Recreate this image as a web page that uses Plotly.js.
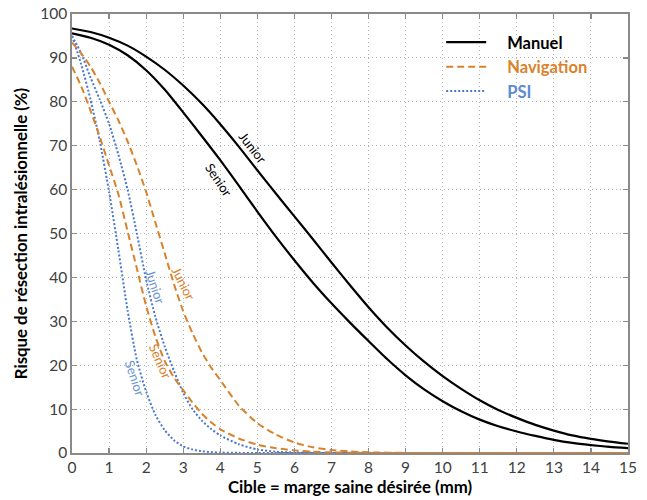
<!DOCTYPE html>
<html>
<head>
<meta charset="utf-8">
<script src="https://cdn.plot.ly/plotly-3.0.1.min.js"></script>
<style>html,body{margin:0;padding:0;background:#fff}#chart{width:647px;height:500px}</style>
</head>
<body>
<div id="chart"></div>
<script>
// x positions (mm)
const xManuel = [0,0.5,1,1.5,2,2.5,3,3.5,4,4.5,5,5.5,6,6.5,7,7.5,8,8.5,9,9.5,10,10.5,11,11.5,12,12.5,13,13.5,14,14.5,15];
const manuelJunior = [96.7,95.9,94.6,92.8,90.3,87.3,83.7,79.6,74.9,69.8,64.4,59.1,53.9,48.7,43.4,38.2,33.2,28.6,24.5,20.8,17.5,14.6,12,9.8,8,6.4,5.1,4,3.2,2.6,2.1];
const manuelSenior = [95.6,94.6,93,90.6,87.2,82.8,77.6,72.2,66.7,60.9,55,49.3,43.9,38.8,34.1,29.7,25.5,21.4,17.7,14.5,11.8,9.5,7.6,6.1,4.9,3.9,3.0,2.3,1.8,1.4,1.1];

const xFast = [0,0.25,0.5,0.75,1,1.25,1.5,1.75,2,2.25,2.5,2.75,3,3.25,3.5,3.75,4,4.5,5,5.5,6,6.5,7,7.5,8,9,10,11,12,13,14,15];
const navJunior = [93.5,91,88,84.3,80,75.8,71,65.5,59.5,52.5,45.5,38.5,32.3,27.3,23,19.5,16.6,10.8,6.8,4.2,2.4,1.3,0.7,0.35,0.15,0.03,0,0,0,0,0,0];
const navSenior = [88,83.5,78,72,65.5,59,50.5,42,33.5,26.5,21,17.2,14.3,11.5,9,7,5.4,3.3,1.9,1.1,0.6,0.3,0.15,0.07,0.03,0,0,0,0,0,0,0];
const psiJunior = [95,91,85.5,80.5,75,68,60,50,39.5,31,24.3,18.7,13.7,10,7.4,5.5,4.0,2.0,0.8,0.3,0.1,0.03,0,0,0,0,0,0,0,0,0,0];
const psiSenior = [95,88.5,80.5,71,59.5,46.3,32.5,21.2,14,8.7,5.2,2.9,1.5,0.8,0.4,0.2,0.1,0.03,0,0,0,0,0,0,0,0,0,0,0,0,0,0];

const groupNames = ['Manuel','Navigation','PSI'];
const curveLabels = ['Junior','Senior','Junior','Senior','Junior','Senior'];
const xTicks = [0,1,2,3,4,5,6,7,8,9,10,11,12,13,14,15];
const yTicks = [0,10,20,30,40,50,60,70,80,90,100];

const BLACK = '#000000', ORANGE = '#d9822b', BLUE = '#4a78d0';
const FONT = 'Lato, "Open Sans", sans-serif';
const PAD = '\u00a0\u00a0\u00a0\u00a0';

function tr(x, y, color, dash, width, name, show, group) {
  return {x: x, y: y, type: 'scatter', mode: 'lines',
    line: {color: color, dash: dash, width: width, shape: 'spline', smoothing: 0.6},
    name: name, showlegend: show, legendgroup: group, hoverinfo: 'skip'};
}

const traces = [
  tr(xFast, psiSenior, BLUE, '2px,2px', 2, '', false, 'p'),
  tr(xFast, psiJunior, BLUE, '2px,2px', 2, PAD + '<span style="color:#5b8bd3">' + groupNames[2] + '</span>', true, 'p'),
  tr(xFast, navSenior, ORANGE, '7px,4px', 2, '', false, 'n'),
  tr(xFast, navJunior, ORANGE, '7px,4px', 2, PAD + '<span style="color:#d9822b">' + groupNames[1] + '</span>', true, 'n'),
  tr(xManuel, manuelSenior, BLACK, 'solid', 2.2, '', false, 'm'),
  tr(xManuel, manuelJunior, BLACK, 'solid', 2.2, PAD + groupNames[0], true, 'm')
];
traces[5].legendrank = 1; traces[3].legendrank = 2; traces[1].legendrank = 3;

function lab(text, x, y, ang, color) {
  return {text: text, x: x, y: y, xref: 'x', yref: 'y', showarrow: false,
    textangle: ang, font: {family: FONT, size: 13, color: color}};
}
const annotations = [
  lab(curveLabels[0], 4.86, 69.6, 52, '#000'),
  lab(curveLabels[1], 3.97, 62.3, 56, '#000'),
  lab(curveLabels[2], 3.0, 38.7, 63, ORANGE),
  lab(curveLabels[3], 2.38, 20.9, 66, ORANGE),
  lab(curveLabels[4], 2.24, 38.0, 72, '#6a92d2'),
  lab(curveLabels[5], 1.7, 17.1, 72, '#6a92d2')
];

const axisCommon = {
  showline: true, linecolor: '#8a8a8a', linewidth: 1.6, mirror: 'allticks',
  ticks: 'inside', ticklen: 5, tickcolor: '#8a8a8a', tickwidth: 1.2,
  showgrid: true, gridcolor: '#b4b4b4', griddash: '1px,3px', gridwidth: 1,
  zeroline: false, tickfont: {family: FONT, size: 15.5, color: '#404040'}
};

const layout = {
  width: 647, height: 500,
  margin: {l: 72, r: 19, t: 14, b: 47},
  paper_bgcolor: '#fff', plot_bgcolor: '#fff',
  showlegend: true,
  legend: {x: 0.664, y: 0.975, xanchor: 'left', yanchor: 'top', bgcolor: 'rgba(0,0,0,0)',
    font: {family: FONT, size: 16.5, color: '#000', weight: 'bold'}, tracegroupgap: 0, itemwidth: 40},
  xaxis: Object.assign({}, axisCommon, {range: [0, 15], tickvals: xTicks, ticktext: xTicks.map(String),
    title: {text: '<b>Cible = marge saine désirée (mm)</b>', font: {family: FONT, size: 16.8, color: '#000'}, standoff: 6}}),
  yaxis: Object.assign({}, axisCommon, {range: [0, 100], tickvals: yTicks, ticktext: yTicks.map(String),
    title: {text: '<b>Risque de résection intralésionnelle (%)</b>', font: {family: FONT, size: 16.8, color: '#000'}, standoff: 8}}),
  annotations: annotations
};

Plotly.newPlot('chart', traces, layout, {displayModeBar: false, staticPlot: true});
</script>
</body>
</html>
